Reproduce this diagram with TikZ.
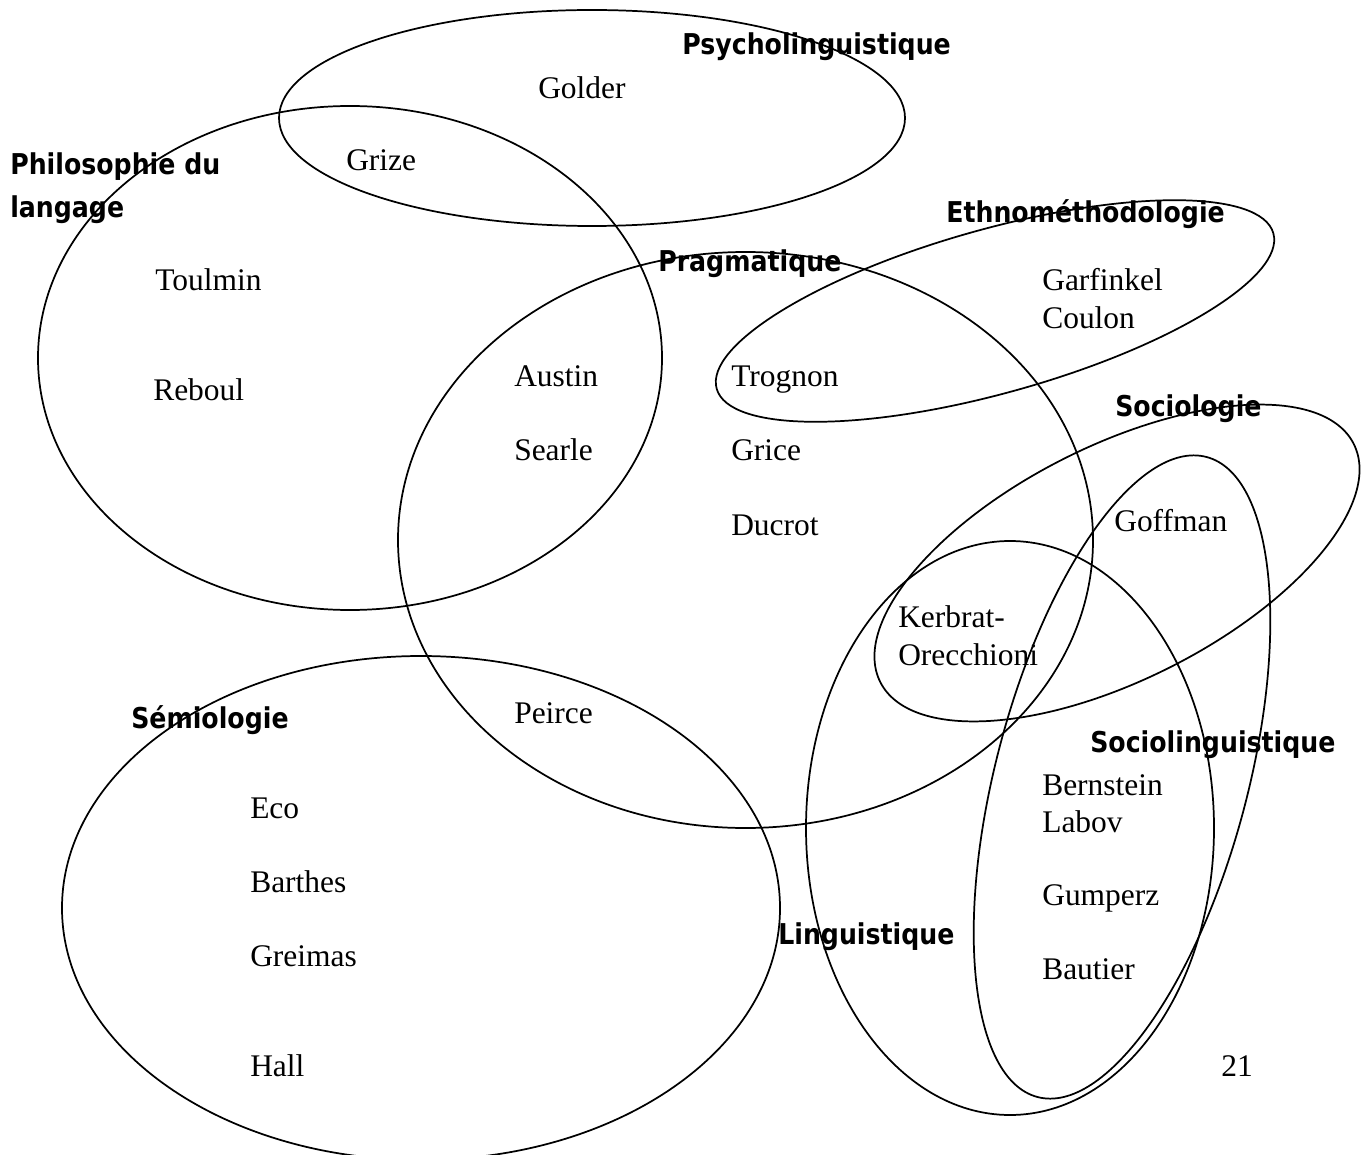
\documentclass[tikz,border=0pt]{standalone}
\usepackage{fontspec}
\setmainfont{Liberation Serif}
\newfontfamily\disciplinefont{DejaVu Sans}[FakeStretch=0.88]
\usetikzlibrary{positioning}

\tikzset{
  set/.style={draw=black, line width=1.3pt},
  author/.style={anchor=base west, inner sep=0pt, font=\fontsize{23.6}{28}\selectfont},
  discipline/.style={anchor=base west, inner sep=0pt, font=\disciplinefont\bfseries\fontsize{21.5}{26}\selectfont}
}

\begin{document}
\begin{tikzpicture}[x=0.75pt, y=-0.75pt]
    \useasboundingbox (0,0) rectangle (1370,1155);

    % les ensembles
    \draw[set] (592,118) ellipse (313 and 108);
    \draw[set] (350,358) ellipse (312 and 252);
    \draw[set] (745.5,540) ellipse (347.5 and 288);
    \draw[set, rotate around={15.6:(995,311)}] (995,311) ellipse (289 and 82);
    \draw[set, rotate around={26.7:(1117,563)}] (1117,563) ellipse (265 and 117);
    \draw[set] (1010,828) ellipse (204 and 287);
    \draw[set, rotate around={-14.8:(1122,777)}] (1122,777) ellipse (126 and 331);
    \draw[set] (421,908) ellipse (359 and 252);

    % disciplines
    \node[discipline] (psycho) at (682,55) {Psycholinguistique};
    \node[discipline] (philo) at (10,175) {Philosophie du};
    \node[discipline] (langage) at (10,218) {langage};
    \node[discipline] (ethno) at (946,223) {Ethnométhodologie};
    \node[discipline] (pragma) at (658,272) {Pragmatique};
    \node[discipline] (socio) at (1115,416) {Sociologie};
    \node[discipline] (sociolx) at (1090,752) {Sociolinguistique};
    \node[discipline] (semio) at (131,728) {Sémiologie};
    \node[discipline] (lingx) at (778,944) {Linguistique};

    % auteurs
    \node[author] (golder) at (538,99) {Golder};
    \node[author] (grize) at (346,171) {Grize};
    \node[author] (toulmin) at (155,291) {Toulmin};
    \node[author] (reboul) at (153,401) {Reboul};
    \node[author] (austin) at (514,387) {Austin};
    \node[author] (searle) at (514,460) {Searle};
    \node[author] (trognon) at (731,387) {Trognon};
    \node[author] (grice) at (731,460) {Grice};
    \node[author] (ducrot) at (731,535) {Ducrot};
    \node[author] (garfinkel) at (1042,291) {Garfinkel};
    \node[author] (coulon) at (1042,329) {Coulon};
    \node[author] (goffman) at (1114,531) {Goffman};
    \node[author] (kerbrat) at (898,627) {Kerbrat-};
    \node[author] (orecchioni) at (898,665) {Orecchioni};
    \node[author] (peirce) at (514,723) {Peirce};
    \node[author] (eco) at (250,818) {Eco};
    \node[author] (barthes) at (250,892) {Barthes};
    \node[author] (greimas) at (250,966) {Greimas};
    \node[author] (hall) at (250,1076) {Hall};
    \node[author] (bernstein) at (1042,795) {Bernstein};
    \node[author] (labov) at (1042,832) {Labov};
    \node[author] (gumperz) at (1042,905) {Gumperz};
    \node[author] (bautier) at (1042,979) {Bautier};
    \node[author] (page) at (1221,1076) {21};
\end{tikzpicture}
\end{document}
